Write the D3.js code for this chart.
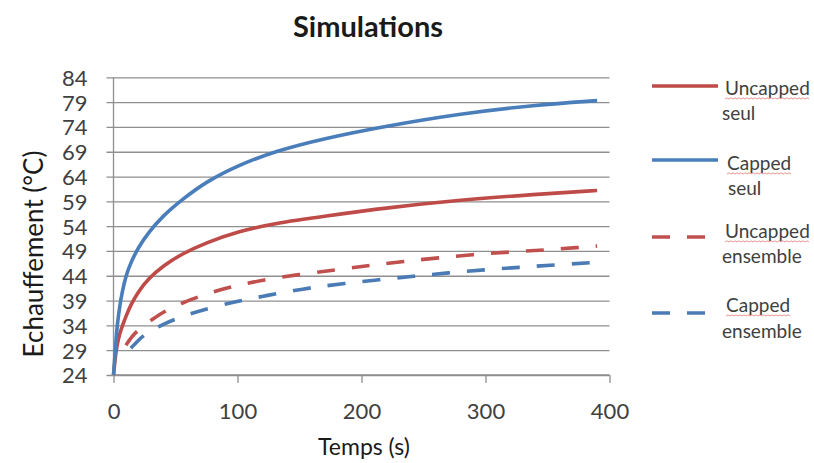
<!DOCTYPE html>
<html>
<head>
<meta charset="utf-8">
<script src="https://cdn.jsdelivr.net/npm/d3@7"></script>
<style>
  html, body { margin: 0; padding: 0; background: #fff; }
  svg { display: block; font-family: Lato, "Open Sans", sans-serif; }
</style>
</head>
<body>
<svg id="chart" width="814" height="463"></svg>
<script>
// Axis ticks
const xTicks = [0, 100, 200, 300, 400];
const yTicks = [24, 29, 34, 39, 44, 49, 54, 59, 64, 69, 74, 79, 84];

// Uncapped seul
const uncappedSeulT = [0, 1, 2, 3, 5, 7, 10, 14, 20, 28, 40, 55, 75, 100, 130, 170, 220, 280, 340, 390];
const uncappedSeulV = [24, 26.5, 28.6, 30.2, 32.3, 33.8, 35.8, 38.2, 40.8, 43.4, 46.0, 48.4, 50.7, 52.9, 54.6, 56.0, 57.7, 59.3, 60.4, 61.2];

// Capped seul
const cappedSeulT = [0, 1, 2, 3, 5, 7, 10, 14, 20, 28, 40, 55, 75, 100, 130, 170, 220, 280, 340, 390];
const cappedSeulV = [24, 27.3, 31.1, 34.0, 37.9, 40.7, 44.0, 46.7, 49.7, 52.7, 56.1, 59.3, 63.0, 66.2, 69.1, 71.7, 74.2, 76.7, 78.4, 79.3];

// Uncapped ensemble
const uncappedEnsT = [10, 15, 20, 32, 43, 56, 70, 85, 100, 120, 150, 180, 207, 234, 262, 291, 320, 348, 375, 390];
const uncappedEnsV = [30, 31.8, 33.1, 35.4, 37.1, 38.6, 39.9, 41.1, 42.1, 43.1, 44.3, 45.2, 46.1, 46.9, 47.6, 48.3, 48.8, 49.2, 49.7, 50];

// Capped ensemble
const cappedEnsT = [14, 20, 25, 32, 39, 51, 64, 78, 95, 107, 121, 134, 150, 165, 185, 214, 242, 270, 299, 327, 356, 390];
const cappedEnsV = [29.4, 31, 32.1, 33.2, 34.1, 35.4, 36.5, 37.5, 38.6, 39.2, 39.9, 40.5, 41.2, 41.8, 42.4, 43.2, 43.9, 44.6, 45.2, 45.7, 46.2, 46.7];

const seriesNames = ["Uncapped seul", "Capped seul", "Uncapped ensemble", "Capped ensemble"];

const RED = "#be4b48", BLUE = "#4a7ebb";
const series = [
  { name: seriesNames[0], t: uncappedSeulT, v: uncappedSeulV, color: RED,  dash: null },
  { name: seriesNames[1], t: cappedSeulT,   v: cappedSeulV,   color: BLUE, dash: null },
  { name: seriesNames[2], t: uncappedEnsT,  v: uncappedEnsV,  color: "#c0504d", dash: "18,17" },
  { name: seriesNames[3], t: cappedEnsT,    v: cappedEnsV,    color: "#4a7bb5", dash: "18,17" }
];

const svg = d3.select("#chart");
const plot = { left: 113.5, right: 609.5, top: 77.3, bottom: 375 };

const x = d3.scaleLinear().domain([0, 400]).range([plot.left, plot.right]);
const y = d3.scaleLinear().domain([24, 84]).range([plot.bottom, plot.top]);

const textColor = "#404040";
const gridColor = "#8f8f8f";

// Horizontal gridlines, extended left as tick marks
const yAxis = d3.axisLeft(y).tickValues(yTicks)
  .tickSize(-(plot.right - plot.left)).tickPadding(0).tickFormat(d3.format("d"));
const gy = svg.append("g").attr("transform", `translate(${plot.left},0)`).call(yAxis);
gy.select(".domain").remove();
gy.selectAll(".tick line").attr("x1", -7).attr("stroke", gridColor).attr("stroke-width", 1.3);
gy.selectAll(".tick text")
  .attr("x", -26).attr("dy", "0.36em")
  .attr("fill", textColor).style("font-size", "22px").style("font-family", "Lato, sans-serif");

// Vertical axis line
svg.append("line")
  .attr("x1", plot.left).attr("x2", plot.left)
  .attr("y1", plot.top).attr("y2", plot.bottom)
  .attr("stroke", gridColor).attr("stroke-width", 1.3);

// Bottom axis
const xAxis = d3.axisBottom(x).tickValues(xTicks).tickSize(8).tickPadding(0).tickFormat(d3.format("d"));
const gx = svg.append("g").attr("transform", `translate(0,${plot.bottom})`).call(xAxis);
gx.select(".domain").attr("stroke", gridColor).attr("stroke-width", 1.3)
  .attr("d", `M${plot.left},0H${plot.right}`);
gx.selectAll(".tick line").attr("stroke", gridColor).attr("stroke-width", 1.3);
gx.selectAll(".tick text")
  .attr("y", 44).attr("dy", 0)
  .attr("fill", textColor).style("font-size", "22px").style("font-family", "Lato, sans-serif");

// Series lines, smoothed through the sampled points
const line = d3.line()
  .x(d => x(d[0]))
  .y(d => y(d[1]))
  .curve(d3.curveBasis);

series.forEach(s => {
  const pts = s.t.map((t, i) => [t, s.v[i]]);
  svg.append("path")
    .datum(pts)
    .attr("d", line)
    .attr("fill", "none")
    .attr("stroke", s.color)
    .attr("stroke-width", 3.6)
    .attr("stroke-dasharray", s.dash)
    .attr("stroke-linejoin", "round");
});

// Title
svg.append("text")
  .attr("x", 368).attr("y", 37)
  .attr("text-anchor", "middle")
  .attr("fill", "#1a1a1a")
  .style("font-size", "29px").style("font-weight", "bold")
  .text("Simulations");

// Axis titles
svg.append("text")
  .attr("transform", "translate(43,254) rotate(-90)")
  .attr("text-anchor", "middle")
  .attr("fill", "#1a1a1a")
  .style("font-size", "26px")
  .text("Echauffement (°C)");

svg.append("text")
  .attr("x", 364).attr("y", 455)
  .attr("text-anchor", "middle")
  .attr("fill", "#1a1a1a")
  .style("font-size", "23px")
  .text("Temps (s)");

// Legend
const legendRows = [
  { s: series[0], lineY: 86,  l1: ["Uncapped", 725, 95],  l2: ["seul", 722, 120] },
  { s: series[1], lineY: 160, l1: ["Capped", 727, 170],   l2: ["seul", 728, 195] },
  { s: series[2], lineY: 237, l1: ["Uncapped", 725, 238], l2: ["ensemble", 722, 263] },
  { s: series[3], lineY: 313, l1: ["Capped", 726, 312],   l2: ["ensemble", 722, 338] }
];

const lg = svg.append("g");
legendRows.forEach(r => {
  lg.append("line")
    .attr("x1", 652).attr("x2", r.s.dash ? 707 : 718)
    .attr("y1", r.lineY).attr("y2", r.lineY)
    .attr("stroke", r.s.color).attr("stroke-width", 3.6)
    .attr("stroke-dasharray", r.s.dash);
  const t1 = lg.append("text")
    .attr("x", r.l1[1]).attr("y", r.l1[2])
    .attr("fill", textColor).style("font-size", "19px")
    .text(r.l1[0]);
  lg.append("text")
    .attr("x", r.l2[1]).attr("y", r.l2[2])
    .attr("fill", textColor).style("font-size", "19px")
    .text(r.l2[0]);
  // wavy spell-check underline under the first word
  const w = t1.node().getComputedTextLength();
  const x0 = r.l1[1], yb = r.l1[2] + 4;
  let d = `M${x0},${yb}`;
  for (let xi = x0 + 2, k = 0; xi <= x0 + w; xi += 2, k++) {
    d += `L${xi},${yb + (k % 2 === 0 ? -1.2 : 0)}`;
  }
  lg.append("path").attr("d", d).attr("fill", "none")
    .attr("stroke", "#e06a6a").attr("stroke-width", 0.9).attr("opacity", 0.8);
});
</script>
</body>
</html>
